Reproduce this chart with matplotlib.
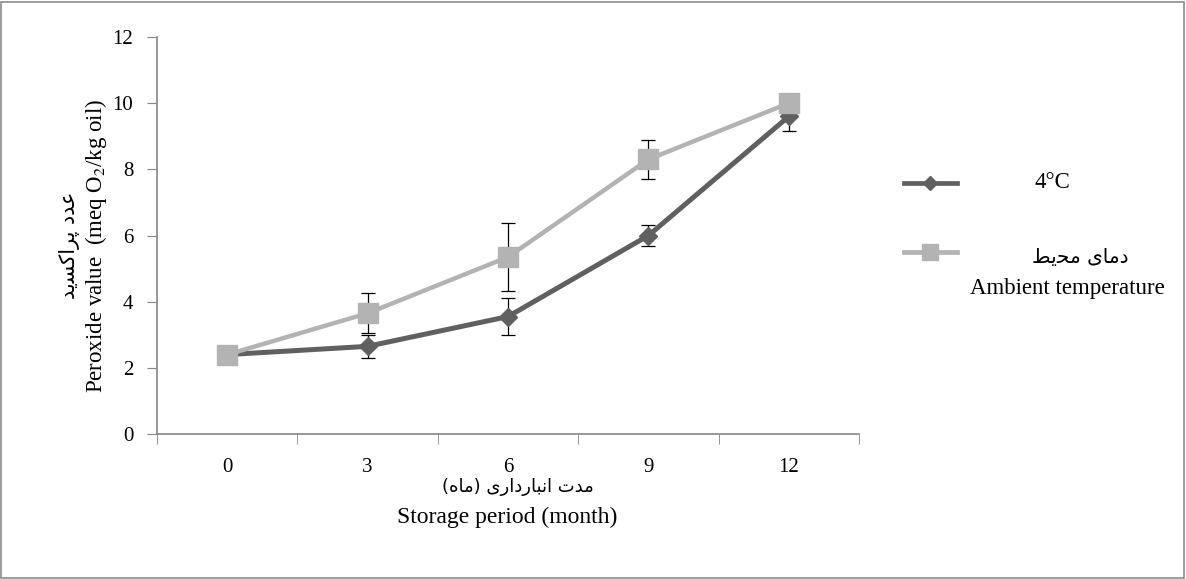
import numpy as np
import matplotlib.pyplot as plt
from matplotlib.lines import Line2D
from matplotlib.patches import Rectangle

# data
months = [0, 3, 6, 9, 12]
pv_cold = [2.4, 2.65, 3.55, 6.0, 9.6]
err_cold = [0.05, 0.35, 0.57, 0.33, 0.45]
pv_ambient = [2.4, 3.65, 5.35, 8.3, 10.0]
err_ambient = [0.05, 0.6, 1.03, 0.6, 0.1]
yticks = [0, 2, 4, 6, 8, 10, 12]


def rtl(s):
    # visual order for already-shaped (presentation form) persian text
    mirror = {'(': ')', ')': '('}
    return ''.join(mirror.get(c, c) for c in reversed(s))


# presentation forms written out by hand (no shaping engine in matplotlib)
fa_ylabel = rtl('\uFECB\uFEAA\uFEA9 \uFB58\uFEAE\uFE8D\uFB90\uFEB4\uFBFE\uFEAA')   # عدد پراکسید
fa_xlabel = rtl('\uFEE3\uFEAA\uFE95 \uFE8D\uFEE7\uFE92\uFE8E\uFEAD\uFEA9\uFE8D\uFEAD\uFBFC (\uFEE3\uFE8E\uFEE9)')  # مدت انبارداری (ماه)
fa_ambient = rtl('\uFEA9\uFEE3\uFE8E\uFBFC \uFEE3\uFEA4\uFBFE\uFEC2')  # دمای محیط

plt.rcParams['font.family'] = ['Liberation Serif', 'DejaVu Sans']
plt.rcParams['mathtext.fontset'] = 'stix'

dark = '#606060'
light = '#b3b3b3'
axis_c = '#868686'
fs = 15

fig = plt.figure(figsize=(11.86, 5.79), dpi=100)
ax = fig.add_axes([0.1324, 0.2504, 0.5919, 0.6857])

ax.errorbar(months, pv_cold, yerr=err_cold, fmt='none', ecolor='black',
            elinewidth=0.9, capsize=4.7, capthick=0.9, zorder=2)
ax.plot(months, pv_cold, color=dark, lw=3.6, marker='D', ms=9.5,
        mec=dark, mfc=dark, zorder=3)
ax.errorbar(months, pv_ambient, yerr=err_ambient, fmt='none', ecolor='black',
            elinewidth=0.9, capsize=4.7, capthick=0.9, zorder=4)
ax.plot(months, pv_ambient, color=light, lw=3.2, marker='s', ms=15,
        mec=light, mfc=light, zorder=5)

ax.set_xlim(-1.5, 13.5)
ax.set_ylim(0, 12)
ax.set_yticks(yticks)
ax.set_xticks(months)
ax.set_xticks(np.arange(-1.5, 14, 3), minor=True)
ax.tick_params(axis='x', which='major', length=0, pad=17, labelsize=fs)
ax.tick_params(axis='x', which='minor', length=7, color=axis_c, direction='out')
ax.tick_params(axis='y', length=7, color=axis_c, pad=10, labelsize=fs)
for s in ['top', 'right']:
    ax.spines[s].set_visible(False)
for s in ['left', 'bottom']:
    ax.spines[s].set_color(axis_c)
    ax.spines[s].set_linewidth(1.2)

# axis titles (persian + english)
fig.text(0.4367, 0.159, fa_xlabel, ha='center', va='center', fontsize=13,
         family=['DejaVu Sans'])
fig.text(0.428, 0.106, 'Storage period (month)', ha='center', va='center', fontsize=17)
fig.text(0.059, 0.577, fa_ylabel, ha='center', va='center', fontsize=15,
         rotation=90, family=['DejaVu Sans'])
fig.text(0.081, 0.575, r'Peroxide value  (meq O$_2$/kg oil)', ha='center', va='center',
         fontsize=16.5, rotation=90)

# legend drawn by hand
for yy, col, mk, ms in [(0.684, dark, 'D', 7), (0.565, light, 's', 11.5)]:
    fig.add_artist(Line2D([0.762, 0.807], [yy, yy], color=col, lw=3.4,
                          marker=None, transform=fig.transFigure))
    fig.add_artist(Line2D([0.7845], [yy], color=col, marker=mk, ms=ms, mec=col,
                          mfc=col, transform=fig.transFigure))
fig.text(0.887, 0.684, '4°C', ha='center', va='center', fontsize=16.5)
fig.text(0.911, 0.556, fa_ambient, ha='center', va='center', fontsize=14.5,
         family=['DejaVu Sans'])
fig.text(0.900, 0.501, 'Ambient temperature', ha='center', va='center', fontsize=16.5)

fig.add_artist(Rectangle((0.001, 0.002), 0.997, 0.995, fill=False, ec='#8c8c8c',
                         lw=1.2, transform=fig.transFigure))

fig.savefig('out.png', dpi=100)
